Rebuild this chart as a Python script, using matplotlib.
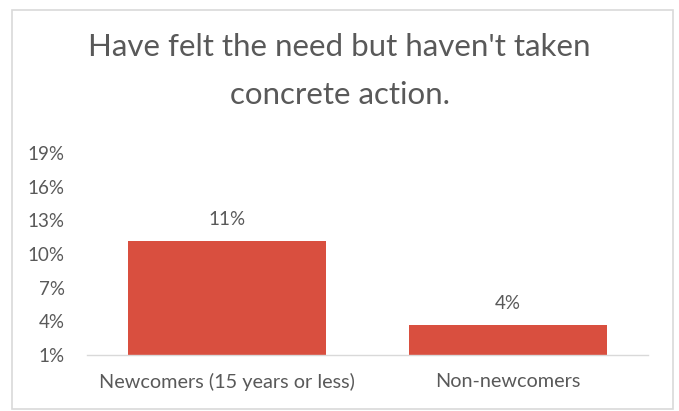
import matplotlib
matplotlib.use("Agg")
import matplotlib.pyplot as plt
from matplotlib.patches import Rectangle

categories = ["Newcomers (15 years or less)", "Non-newcomers"]
values = [11.2, 3.7]
yticks = [1, 4, 7, 10, 13, 16, 19]
title = "Have felt the need but haven't taken\nconcrete action."

plt.rcParams["font.family"] = ["Lato", "DejaVu Sans"]
text_color = "#595959"
bar_color = "#D94F3F"
label_size = 13.5

fig = plt.figure(figsize=(6.79, 4.11), dpi=100)
fig.patches.append(Rectangle((12 / 679, 1 - 409 / 411), 661 / 679, 399 / 411,
                             transform=fig.transFigure, fill=False,
                             edgecolor="#D9D9D9", linewidth=1.2))

ax = fig.add_axes([87 / 679, 1 - 355 / 411, 561 / 679, 202 / 411])
x = list(range(len(categories)))
ax.bar(x, values, width=0.706, color=bar_color, bottom=0)
ax.set_xlim(-0.5, 1.5)
ax.set_ylim(1, 19)
ax.set_yticks(yticks)
ax.set_yticklabels([f"{t}%" for t in yticks], fontsize=label_size, color=text_color)
ax.set_xticks(x)
ax.set_xticklabels(categories, fontsize=14.3, color=text_color)
ax.tick_params(axis="both", length=0)
ax.tick_params(axis="y", pad=16)
ax.tick_params(axis="x", pad=13)
for s in ["left", "right", "top"]:
    ax.spines[s].set_visible(False)
ax.spines["bottom"].set_color("#D9D9D9")
ax.spines["bottom"].set_linewidth(1.0)

for xi, v in zip(x, values):
    ax.annotate(f"{v:.0f}%", (xi, v), xytext=(0, 9), textcoords="offset points",
                ha="center", va="bottom", fontsize=label_size, color=text_color)

fig.text(0.5, 1 - 71 / 411, title, ha="center", va="center", fontsize=22.5,
         color=text_color, linespacing=1.85)

fig.savefig("out.png", dpi=100)
